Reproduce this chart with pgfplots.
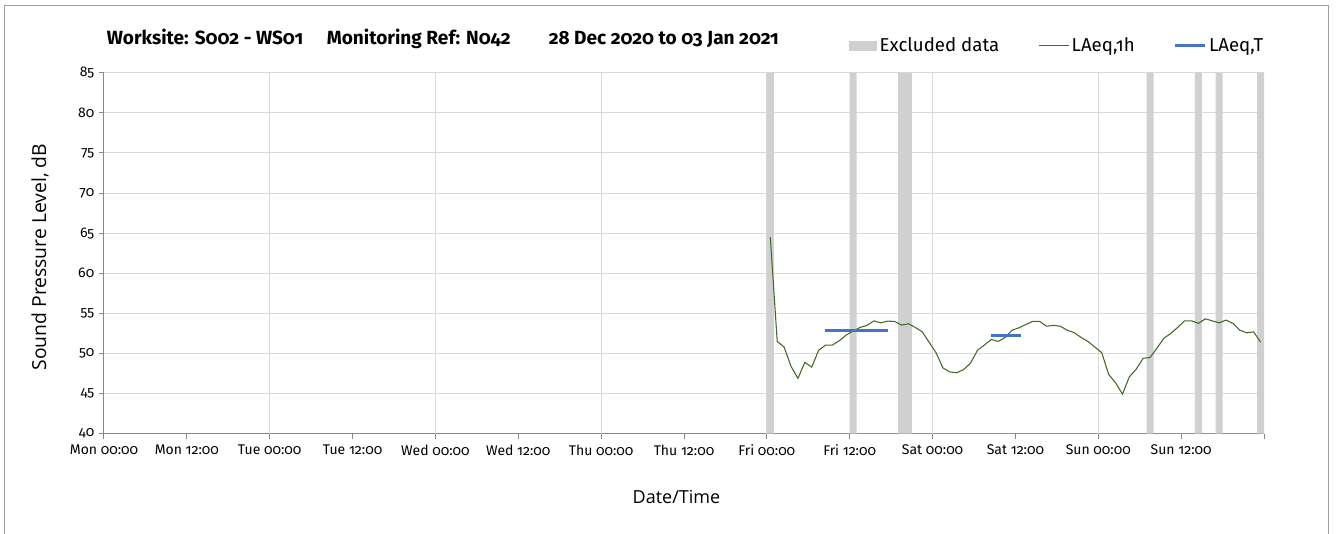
\documentclass[border=0pt]{standalone}
\usepackage{fontspec}
\setmainfont{Fira Sans}[Numbers=OldStyle]
\newfontfamily\labfont{Open Sans}
\usepackage{pgfplots}
\pgfplotsset{compat=1.18}

\definecolor{excl}{RGB}{208,208,208}
\definecolor{laeq}{RGB}{68,104,40}
\definecolor{laeqT}{RGB}{68,114,196}
\definecolor{gridc}{RGB}{217,217,217}
\definecolor{axc}{RGB}{134,134,134}

\begin{document}
\begin{tikzpicture}
\useasboundingbox (-78pt,-75.2pt) rectangle (924pt,325.3pt);
\draw[color=axc!80, line width=0.75pt] (-74.25pt,-90pt) -- (-74.25pt,320.8pt) -- (918pt,320.8pt) -- (918pt,-90pt);
\begin{axis}[
  at={(0pt,0pt)}, anchor=south west,
  scale only axis, width=870pt, height=270.8pt,
  xmin=0, xmax=168, ymin=40, ymax=85,
  axis lines=left, axis line style={-, color=axc, line width=0.75pt},
  xtick={0,12,...,168},
  xticklabels={Mon 00:00, Mon 12:00, Tue 00:00, Tue 12:00, Wed 00:00, Wed 12:00, Thu 00:00, Thu 12:00, Fri 00:00, Fri 12:00, Sat 00:00, Sat 12:00, Sun 00:00, Sun 12:00, {}},
  ytick={40,45,...,85},
  tick align=outside, major tick length=3.75pt,
  tick style={color=axc, line width=0.75pt},
  ymajorgrids, grid style={color=gridc, line width=0.75pt},
  extra x ticks={24,48,...,144}, extra x tick labels={},
  extra x tick style={grid=major, major tick length=0pt},
  /pgf/number format/assume math mode=true,
  ticklabel style={font=\fontsize{10.5}{12}\selectfont},
  xticklabel style={yshift=-1pt},
  xlabel={Date/Time},
  xlabel style={font=\labfont\fontsize{13.5}{16}\selectfont, at={(axis description cs:0.4935,-0.175)}, anchor=center},
  ylabel={Sound Pressure Level, dB},
  ylabel style={font=\labfont\fontsize{14.5}{17}\selectfont, at={(axis description cs:-0.0552,0.489)}, anchor=center},
  title={Worksite: S002 - WS01\quad\ Monitoring Ref: N042\qquad 28 Dec 2020 to 03 Jan 2021},
  title style={font=\bfseries\fontsize{14.3}{16}\selectfont, anchor=base west, inner sep=0pt, yshift=0pt,
    at={(axis description cs:0.0023,1.057)}},
  legend columns=3,
  legend style={draw=none, fill=none, at={(axis description cs:0.642,1.074)}, anchor=west, inner sep=0pt,
    font=\fontsize{14}{16}\selectfont,
    /tikz/every even column/.append style={column sep=27pt}},
]
\addplot[ybar interval, fill=excl, draw=none,
  legend image code/.code={\fill[excl] (0pt,-3.75pt) rectangle (21pt,3.75pt);}]
coordinates {
(96,85) (97,40) (108,85) (109,40) (115,85) (117,40) (151,85) (152,40)
(158,85) (159,40) (161,85) (162,40) (167,85) (168,40)
};
\addlegendentry{Excluded data}
\addplot[color=laeq, line width=0.8pt,
  legend image code/.code={\draw[laeq, line width=0.8pt] (0pt,0pt) -- (22.5pt,0pt);}]
coordinates {
(96.5,64.5) (97.5,51.5) (98.5,50.8) (99.5,48.4) (100.5,46.9) (101.5,48.9)
(102.5,48.3) (103.5,50.4) (104.5,51.05) (105.5,51.05) (106.5,51.6) (107.5,52.3)
(108.5,52.8) (109.5,53.25) (110.5,53.5) (111.5,54.07) (112.5,53.82) (113.5,54.03)
(114.5,54.0) (115.5,53.54) (116.5,53.7) (117.5,53.25) (118.5,52.7) (119.5,51.4)
(120.5,50.1) (121.5,48.2) (122.5,47.7) (123.5,47.6) (124.5,48.0) (125.5,48.8)
(126.5,50.4) (127.5,51.05) (128.5,51.75) (129.5,51.5) (130.5,52.0) (131.5,52.9)
(132.5,53.2) (133.5,53.6) (134.5,54.0) (135.5,54.0) (136.5,53.4) (137.5,53.5)
(138.5,53.4) (139.5,52.9) (140.5,52.6) (141.5,52.0) (142.5,51.5) (143.5,50.8)
(144.5,50.1) (145.5,47.4) (146.5,46.35) (147.5,44.94) (148.5,47.1) (149.5,48.06)
(150.5,49.4) (151.5,49.5) (152.5,50.67) (153.5,51.9) (154.5,52.5) (155.5,53.25)
(156.5,54.07) (157.5,54.07) (158.5,53.75) (159.5,54.32) (160.5,54.07) (161.5,53.82)
(162.5,54.16) (163.5,53.75) (164.5,52.9) (165.5,52.58) (166.5,52.7) (167.5,51.4)
};
\addlegendentry{LAeq,1h}
\addplot[color=laeqT, line width=2.25pt,
  legend image code/.code={\draw[laeqT, line width=2.25pt] (0pt,0pt) -- (22.5pt,0pt);}]
coordinates {(104.4,52.9) (113.6,52.9)};
\addlegendentry{LAeq,T}
\addplot[color=laeqT, line width=2.25pt, forget plot]
coordinates {(128.4,52.3) (132.8,52.3)};
\end{axis}
\end{tikzpicture}
\end{document}
